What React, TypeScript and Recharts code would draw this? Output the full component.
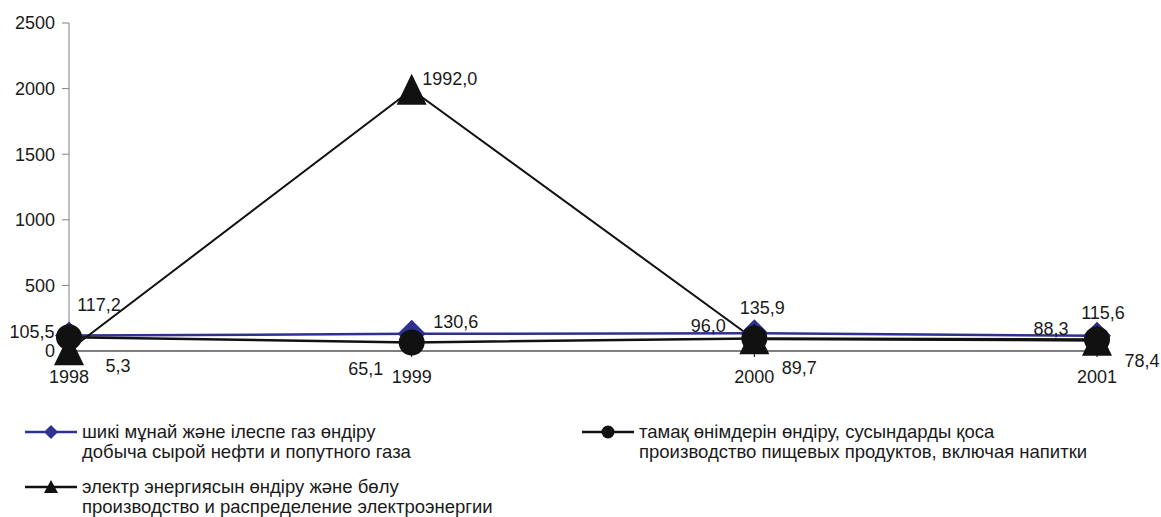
import React from "react";
import { LineChart, Line, XAxis, YAxis, LabelList } from "recharts";

const years = ["1998", "1999", "2000", "2001"];
const oilGas = [117.2, 130.6, 135.9, 115.6];
const food = [105.5, 65.1, 96.0, 88.3];
const power = [5.3, 1992.0, 89.7, 78.4];
const yTicks = [0, 500, 1000, 1500, 2000, 2500];

const oilName = ["шикі мұнай және ілеспе газ өндіру", "добыча сырой нефти и попутного газа"];
const foodName = ["тамақ өнімдерін өндіру, сусындарды қоса", "производство пищевых продуктов, включая напитки"];
const powerName = ["электр энергиясын өндіру және бөлу", "производство и распределение электроэнергии"];

// label text offsets from each point (dx, dy)
const oilLabelPos = [[30, -31], [44, -12], [8, -25], [6, -23]];
const foodLabelPos = [[-37, -5], [-46, 26], [-46, -13], [-46, -11]];
const powerLabelPos = [[49, 15], [38, -11], [45, 28], [45, 20]];

const data = years.map((year, i) => ({
  year,
  oil: oilGas[i],
  food: food[i],
  power: power[i],
}));

const FONT = '"Liberation Sans", Arial, sans-serif';
const BLUE = "#2E3192";
const BLACK = "#111";

const fmt = (v: number) => v.toFixed(1).replace(".", ",");

const makeLabel = (pos: number[][]) => (props: any) => {
  const { x, y, value, index } = props;
  const [dx, dy] = pos[index] || [0, 0];
  return (
    <text
      key={`l-${index}`}
      x={x + dx}
      y={y + dy}
      dy="0.35em"
      textAnchor="middle"
      fontSize={18}
      fontFamily={FONT}
      fill="#1a1a1a"
    >
      {fmt(value)}
    </text>
  );
};

const Diamond = (props: any) => {
  const { cx, cy, index } = props;
  const s = 14;
  return (
    <polygon
      key={`dm-${index}`}
      points={`${cx},${cy - s} ${cx + s},${cy} ${cx},${cy + s} ${cx - s},${cy}`}
      fill={BLUE}
    />
  );
};

const Dot = (props: any) => {
  const { cx, cy, index } = props;
  return <circle key={`c-${index}`} cx={cx} cy={cy} r={13} fill={BLACK} />;
};

const Tri = (props: any) => {
  const { cx, cy, index } = props;
  return (
    <polygon
      key={`t-${index}`}
      points={`${cx},${cy - 16} ${cx + 15},${cy + 15} ${cx - 15},${cy + 15}`}
      fill={BLACK}
    />
  );
};

function LegendItem({ x, y, lines, marker, color }: { x: number; y: number; lines: string[]; marker: string; color: string }) {
  return (
    <div style={{ position: "absolute", left: x, top: y, display: "flex", alignItems: "flex-start" }}>
      <svg width={54} height={20}>
        <line x1={0} y1={10} x2={52} y2={10} stroke={color} strokeWidth={2.5} />
        {marker === "diamond" && <polygon points="26,3 33,10 26,17 19,10" fill={color} />}
        {marker === "circle" && <circle cx={26} cy={10} r={6.5} fill={color} />}
        {marker === "triangle" && <polygon points="26,3 33,16 19,16" fill={color} />}
      </svg>
      <div style={{ marginLeft: 3, fontFamily: FONT, fontSize: 18.5, lineHeight: "20px", color: "#1a1a1a" }}>
        {lines.map((l) => (
          <div key={l}>{l}</div>
        ))}
      </div>
    </div>
  );
}

export default function App() {
  return (
    <div style={{ position: "relative", width: 1161, height: 517, background: "#fff", overflow: "hidden" }}>
      <style>{`html,body{margin:0;padding:0;overflow:hidden;}`}</style>
      <LineChart width={1161} height={410} data={data} margin={{ top: 23, right: 64, bottom: 19, left: 0 }}>
        <XAxis
          dataKey="year"
          stroke="#000"
          tickLine={{ stroke: "#000" }}
          tickSize={6}
          tickMargin={13}
          height={40}
          tick={{ fontSize: 18, fontFamily: FONT, fill: "#1a1a1a" }}
        />
        <YAxis
          domain={[0, 2500]}
          ticks={yTicks}
          width={69}
          stroke="#808080"
          tickSize={7}
          tickMargin={7}
          tick={{ fontSize: 18, fontFamily: FONT, fill: "#1a1a1a" }}
        />
        <Line
          dataKey="oil"
          stroke={BLUE}
          strokeWidth={2.5}
          dot={Diamond}
          isAnimationActive={false}
        >
          <LabelList dataKey="oil" content={makeLabel(oilLabelPos)} />
        </Line>
        <Line
          dataKey="power"
          stroke={BLACK}
          strokeWidth={2}
          dot={Tri}
          isAnimationActive={false}
        >
          <LabelList dataKey="power" content={makeLabel(powerLabelPos)} />
        </Line>
        <Line
          dataKey="food"
          stroke={BLACK}
          strokeWidth={2.5}
          dot={Dot}
          isAnimationActive={false}
        >
          <LabelList dataKey="food" content={makeLabel(foodLabelPos)} />
        </Line>
      </LineChart>
      <LegendItem x={25} y={422} lines={oilName} marker="diamond" color={BLUE} />
      <LegendItem x={582} y={422} lines={foodName} marker="circle" color={BLACK} />
      <LegendItem x={25} y={477} lines={powerName} marker="triangle" color={BLACK} />
    </div>
  );
}
